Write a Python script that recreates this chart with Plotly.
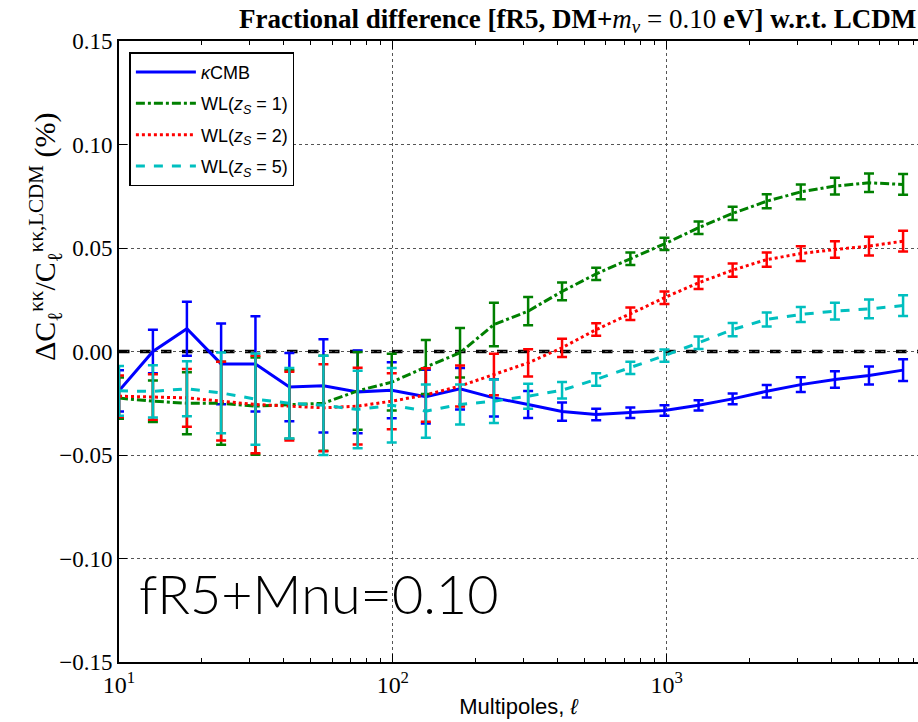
import plotly.graph_objects as go

ell = [10.0, 13.3, 17.7, 23.6, 31.5, 41.9, 55.8, 74.4, 99.1, 132, 176, 234,
       312, 415, 553, 737, 982, 1308, 1742, 2320, 3090, 4117, 5483, 7303]

cmb = [-0.019, 0.000, 0.011, -0.006, -0.006, -0.0172, -0.0166, -0.0195, -0.0187, -0.0218,
       -0.018, -0.0224, -0.0256, -0.029, -0.0304, -0.0296, -0.0285, -0.026, -0.0229, -0.0192,
       -0.016, -0.0135, -0.0116, -0.009]
cmb_err = [0.010, 0.0105, 0.013, 0.0195, 0.023, 0.0165, 0.0225, 0.020, 0.0135, 0.013,
           0.010, 0.009, 0.0065, 0.0044, 0.0028, 0.0025, 0.0025, 0.0025, 0.0026, 0.003,
           0.0036, 0.004, 0.0044, 0.0052]

wl1 = [-0.0225, -0.024, -0.025, -0.025, -0.0264, -0.0256, -0.025, -0.019, -0.0148, -0.0075,
       -0.0006, 0.013, 0.0195, 0.029, 0.0375, 0.0448, 0.052, 0.0598, 0.0667, 0.0726,
       0.0771, 0.0799, 0.0815, 0.0807]
wl1_err = [0.010, 0.010, 0.015, 0.020, 0.0235, 0.0165, 0.023, 0.0188, 0.0137, 0.013,
           0.012, 0.0105, 0.0068, 0.0043, 0.003, 0.003, 0.003, 0.003, 0.0032, 0.0034,
           0.0036, 0.004, 0.0045, 0.005]

wl2 = [-0.0216, -0.022, -0.0224, -0.024, -0.0256, -0.0264, -0.0272, -0.0264, -0.024, -0.021,
       -0.0167, -0.0111, -0.0055, 0.0018, 0.0106, 0.0182, 0.026, 0.0332, 0.0393, 0.0444,
       0.0473, 0.0493, 0.0509, 0.0533]
wl2_err = [0.010, 0.011, 0.014, 0.019, 0.0235, 0.0166, 0.021, 0.0185, 0.0135, 0.0129,
           0.0099, 0.010, 0.0066, 0.0044, 0.003, 0.003, 0.003, 0.003, 0.0032, 0.0034,
           0.0036, 0.004, 0.0045, 0.005]

wl5 = [-0.019, -0.0193, -0.018, -0.020, -0.023, -0.025, -0.026, -0.028, -0.026, -0.0288,
       -0.0256, -0.024, -0.0216, -0.0187, -0.0135, -0.0079, -0.002, 0.0042, 0.0106, 0.0155,
       0.0179, 0.0195, 0.0206, 0.0222]
wl5_err = [0.012, 0.0126, 0.0133, 0.0195, 0.022, 0.017, 0.024, 0.0187, 0.018, 0.0129,
           0.0097, 0.0105, 0.006, 0.004, 0.003, 0.003, 0.003, 0.003, 0.0032, 0.0034,
           0.0036, 0.004, 0.0045, 0.005]

series = [
    ("<i>κ</i>CMB", cmb, cmb_err, "#0000ff", "solid"),
    ("WL(<i>z<sub>S</sub></i> = 1)", wl1, wl1_err, "#008000", "dashdot"),
    ("WL(<i>z<sub>S</sub></i> = 2)", wl2, wl2_err, "#ff0000", "dot"),
    ("WL(<i>z<sub>S</sub></i> = 5)", wl5, wl5_err, "#00bfbf", "dash"),
]

y_ticks = [-0.15, -0.10, -0.05, 0.00, 0.05, 0.10, 0.15]
y_ticktext = ["−0.15", "−0.10", "−0.05", "0.00", "0.05", "0.10", "0.15"]
x_ticks = [10, 100, 1000]
x_ticktext = ["10<sup>1</sup>", "10<sup>2</sup>", "10<sup>3</sup>"]
x_minor = [20, 30, 40, 50, 60, 70, 80, 90, 200, 300, 400, 500, 600, 700, 800, 900,
           2000, 3000, 4000, 5000, 6000, 7000, 8000]

fig = go.Figure()

for i, (name, y, e, c, d) in enumerate(series):
    fig.add_trace(go.Scatter(
        x=ell, y=y, name=name, mode="lines", legendgroup=f"g{i}",
        line=dict(color=c, width=3, dash=d),
        error_y=dict(type="data", array=e, color=c, thickness=2.5, width=5),
    ))

fig.add_shape(type="line", xref="paper", yref="y", x0=0, x1=1, y0=0, y1=0,
              line=dict(color="black", width=3.5, dash="dash"), layer="below")

serif = "Liberation Serif, DejaVu Serif, serif"

fig.update_layout(
    width=918, height=722,
    margin=dict(l=119, r=0, t=41, b=60),
    plot_bgcolor="white", paper_bgcolor="white",
    title=dict(
        text="<b>Fractional difference [fR5, DM+</b><i>m<sub>ν</sub></i> = 0.10 <b>eV] w.r.t. LCDM</b>",
        x=0.998, xanchor="right", y=0.988, yanchor="top",
        font=dict(family=serif, size=27, color="black"),
    ),
    showlegend=True,
    legend=dict(
        x=0.013, y=0.982, xanchor="left", yanchor="top",
        bordercolor="black", borderwidth=1.5, bgcolor="white",
        font=dict(family="Liberation Sans, Arial, sans-serif", size=18, color="black"),
        tracegroupgap=5, itemwidth=60,
    ),
    xaxis=dict(
        type="log", range=[1.0, 3.918],
        tickvals=x_ticks, ticktext=x_ticktext,
        ticks="inside", ticklen=8, tickwidth=1.2, tickcolor="black",
        showline=True, linecolor="black", linewidth=2, mirror="ticks",
        showgrid=True, gridcolor="#555555", griddash="dot", gridwidth=1,
        zeroline=False,
        tickfont=dict(family=serif, size=24, color="black"),
        minor=dict(tickvals=x_minor, ticks="inside", ticklen=4, tickcolor="black",
                   tickwidth=1, showgrid=False),
        title=dict(text="Multipoles, <i>ℓ</i>",
                   font=dict(family="Liberation Sans, Arial, sans-serif", size=22, color="black"),
                   standoff=2),
    ),
    yaxis=dict(
        range=[-0.15, 0.15],
        tickvals=y_ticks, ticktext=y_ticktext,
        ticks="inside", ticklen=8, tickwidth=1.2, tickcolor="black",
        showline=True, linecolor="black", linewidth=2, mirror=False,
        showgrid=True, gridcolor="#555555", griddash="dot", gridwidth=1,
        zeroline=False,
        tickfont=dict(family=serif, size=23, color="black"),
    ),
    annotations=[
        dict(
            text="fR5+Mnu=0.10", xref="paper", yref="paper", x=0.022, y=0.055,
            xanchor="left", yanchor="bottom", showarrow=False,
            font=dict(family="Lato, sans-serif", size=54, color="black", weight=300),
        ),
        dict(
            text="ΔC<sub>ℓ</sub><sup>κκ</sup>/C<sub>ℓ</sub><sup>κκ,LCDM</sup> (%)",
            xref="paper", yref="paper", x=-0.092, y=0.685,
            xanchor="center", yanchor="middle", textangle=-90, showarrow=False,
            font=dict(family=serif, size=30, color="black"),
        ),
    ],
)

fig.write_html("out.html")
